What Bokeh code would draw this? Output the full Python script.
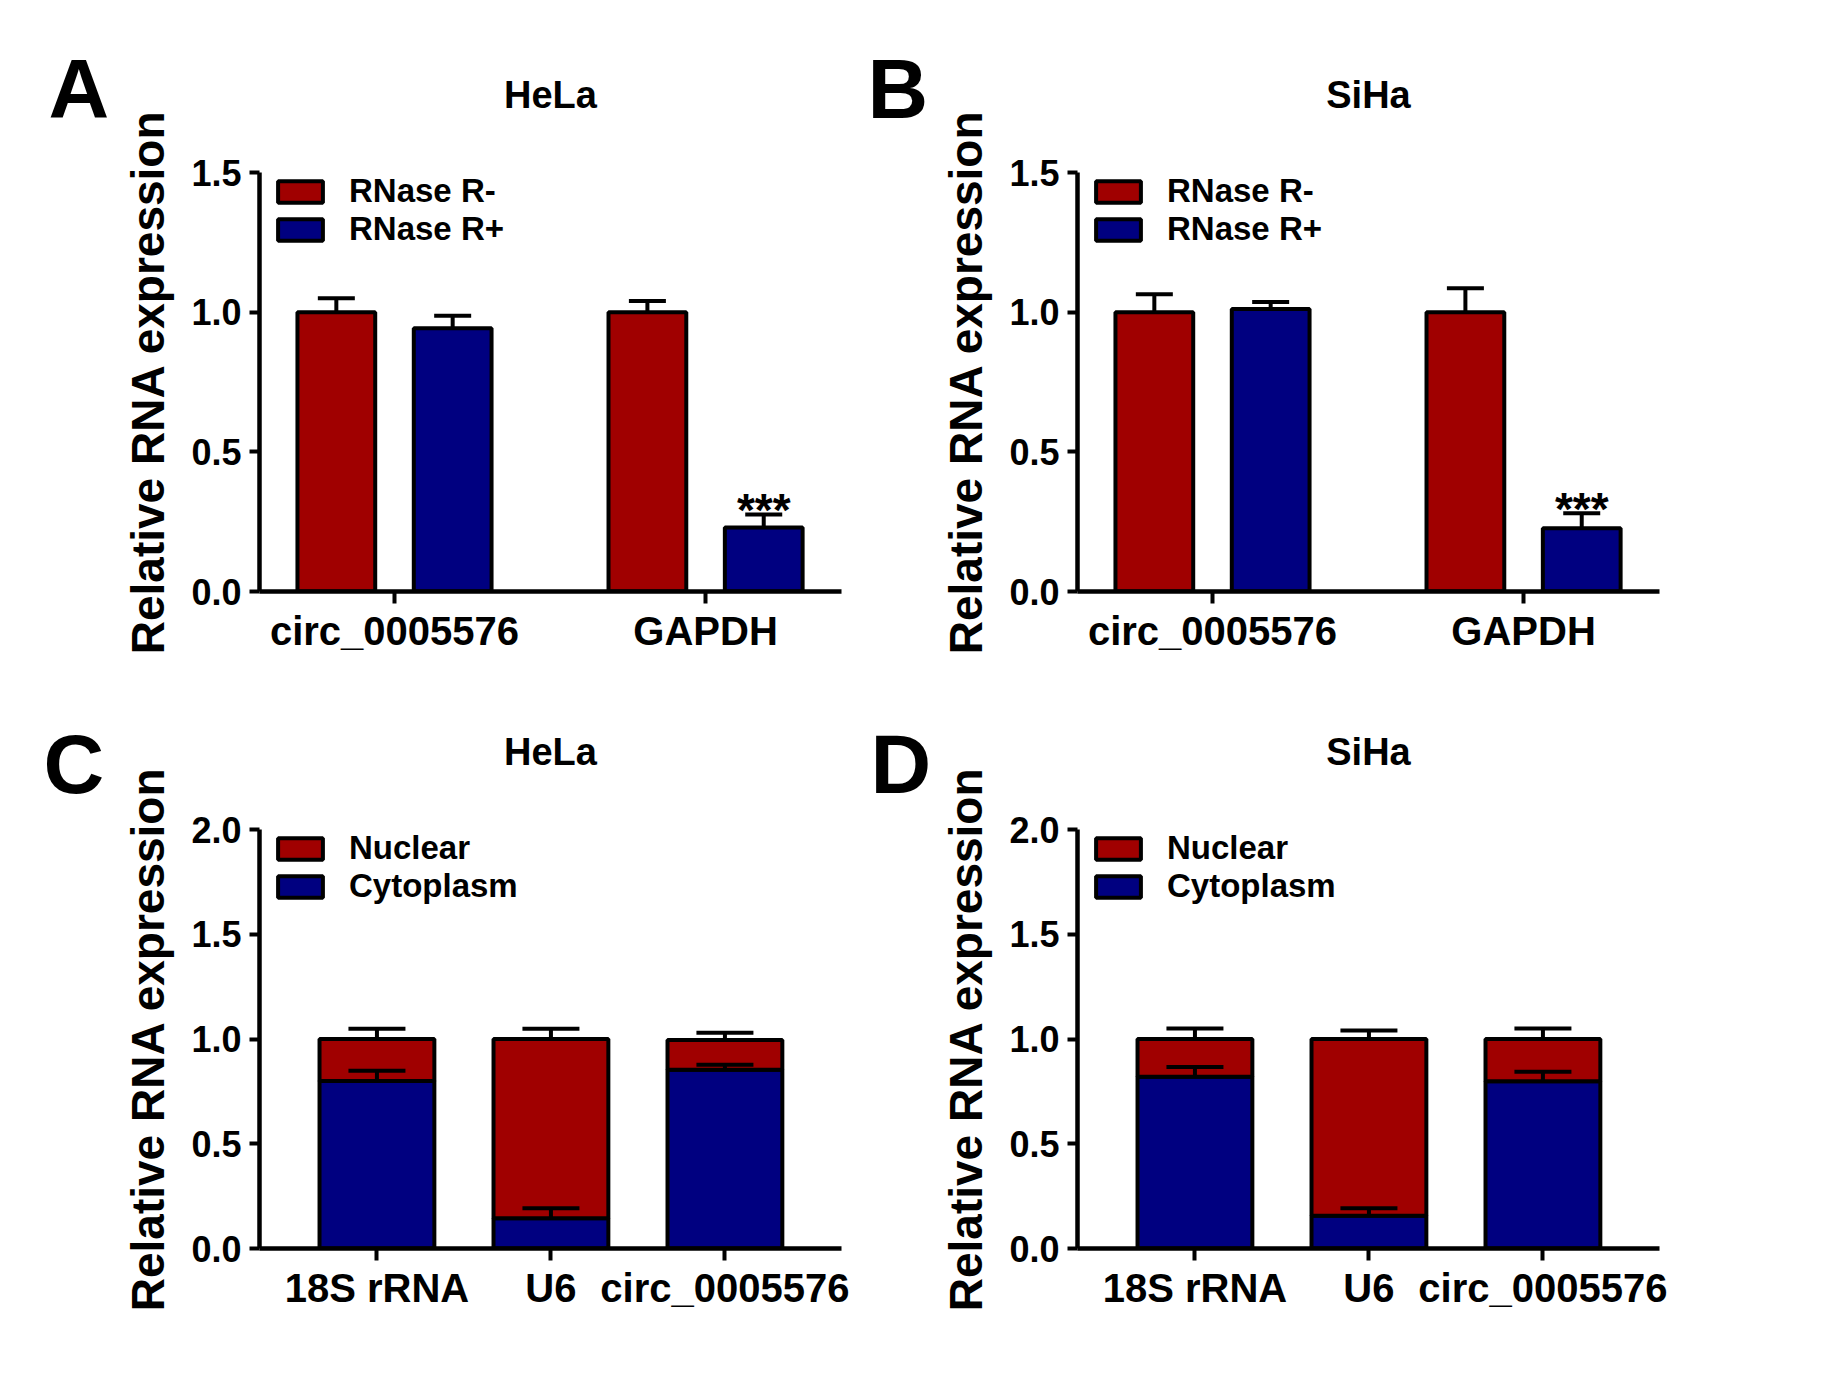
from bokeh.plotting import figure
from bokeh.models import (ColumnDataSource, Range1d, FixedTicker, PrintfTickFormatter,
                          Whisker, TeeHead, Legend, LegendItem)
from bokeh.layouts import gridplot
from bokeh.transform import dodge
from bokeh.core.properties import value
from bokeh.embed import file_html
from bokeh.resources import INLINE

FONT = "Liberation Sans"
RED = "#A00000"
BLUE = "#000080"

# ---------------- data ----------------
panel_letters = ["A", "B", "C", "D"]
cell_lines = ["HeLa", "SiHa"]

rnase_genes = ["circ_0005576", "GAPDH"]
rnase_series = ["RNase R-", "RNase R+"]

hela_rnase_minus = [1.00, 1.00]
hela_rnase_minus_err = [0.050, 0.040]
hela_rnase_plus = [0.942, 0.229]
hela_rnase_plus_err = [0.045, 0.047]
hela_rnase_sig = ["", "***"]

siha_rnase_minus = [1.00, 1.00]
siha_rnase_minus_err = [0.064, 0.086]
siha_rnase_plus = [1.011, 0.226]
siha_rnase_plus_err = [0.025, 0.054]
siha_rnase_sig = ["", "***"]

fraction_genes = ["18S rRNA", "U6", "circ_0005576"]
fraction_series = ["Nuclear", "Cytoplasm"]

hela_nuclear = [0.200, 0.856, 0.142]
hela_nuclear_err = [0.049, 0.049, 0.035]
hela_cytoplasm = [0.800, 0.144, 0.853]
hela_cytoplasm_err = [0.048, 0.048, 0.024]

siha_nuclear = [0.180, 0.844, 0.202]
siha_nuclear_err = [0.050, 0.040, 0.050]
siha_cytoplasm = [0.820, 0.156, 0.798]
siha_cytoplasm_err = [0.046, 0.036, 0.046]

rnase_ticks = [0.0, 0.5, 1.0, 1.5]
fraction_ticks = [0.0, 0.5, 1.0, 1.5, 2.0]

FRAME_W, FRAME_H = 582, 419


def letter_fig(w, h, letter, offset, standoff):
    p = figure(width=w, height=h, x_range=Range1d(0, 1), y_range=Range1d(0, 1),
               output_backend="svg", toolbar_location=None,
               x_axis_location=None, y_axis_location=None,
               min_border_left=0, min_border_right=0, min_border_top=0, min_border_bottom=0)
    p.outline_line_color = None
    p.xgrid.visible = False
    p.ygrid.visible = False
    p.title.text = letter
    p.title.align = "left"
    p.title.offset = offset
    p.title.standoff = standoff
    p.title.text_font = FONT
    p.title.text_font_size = "84px"
    p.title.text_font_style = "bold"
    p.title.text_color = "black"
    return p


def base_fig(w, h, bl, br, bt, bb, xr, yr, yticks, genes, title):
    p = figure(width=w, height=h, x_range=Range1d(*xr), y_range=Range1d(*yr),
               output_backend="svg", toolbar_location=None,
               min_border_left=bl, min_border_right=br,
               min_border_top=bt, min_border_bottom=bb)
    p.outline_line_color = None
    p.xgrid.visible = False
    p.ygrid.visible = False

    for ax in (p.xaxis[0], p.yaxis[0]):
        ax.axis_line_width = 4.5
        ax.axis_line_color = "black"
        ax.major_tick_line_width = 4
        ax.major_tick_line_color = "black"
        ax.minor_tick_line_color = None
        ax.major_tick_in = 0
        ax.major_label_text_font = FONT
        ax.major_label_text_font_style = "bold"
        ax.major_label_text_color = "black"

    p.yaxis.major_tick_out = 10
    p.yaxis.major_label_standoff = 8
    p.yaxis.ticker = FixedTicker(ticks=yticks)
    p.yaxis.formatter = PrintfTickFormatter(format="%.1f")
    p.yaxis.major_label_text_font_size = "36px"
    p.yaxis.axis_label = "Relative RNA expression"
    p.yaxis.axis_label_text_font = FONT
    p.yaxis.axis_label_text_font_size = "46px"
    p.yaxis.axis_label_text_font_style = "bold"
    p.yaxis.axis_label_text_color = "black"
    p.yaxis.axis_label_standoff = 14

    p.xaxis.major_tick_out = 12
    p.xaxis.major_label_standoff = 5
    p.xaxis.ticker = FixedTicker(ticks=list(range(len(genes))))
    p.xaxis.major_label_overrides = {i: g for i, g in enumerate(genes)}
    p.xaxis.major_label_text_font_size = "40px"

    p.title.text = title
    p.title.align = "center"
    p.title.text_font = FONT
    p.title.text_font_size = "38px"
    p.title.text_font_style = "bold"
    p.title.text_color = "black"
    p.title.standoff = 114
    return p


def make_legend(items):
    return Legend(items=items, location=(13, FRAME_H - 2 * 38),
                  orientation="vertical", padding=0, spacing=0, margin=0,
                  glyph_width=56, glyph_height=27, label_standoff=21, label_height=38,
                  label_text_font=FONT, label_text_font_size="33px",
                  label_text_font_style="bold", label_text_color="black",
                  border_line_color=None, background_fill_alpha=0)


def whisker(p, src, base, lo, up, cap):
    p.add_layout(Whisker(source=src, base=base, lower=lo, upper=up, dimension="height",
                         line_width=4, line_color="black", level="overlay",
                         upper_head=TeeHead(size=cap, line_width=4, line_color="black"),
                         lower_head=None))


def rnase_panel(w, h, bl, br, bt, bb, title, minus, minus_err, plus, plus_err, sig):
    p = base_fig(w, h, bl, br, bt, bb, (-0.434, 1.437), (0, 1.5), rnase_ticks,
                 rnase_genes, title)
    off, bw = 0.187, 0.25
    src = ColumnDataSource(dict(
        x=list(range(len(rnase_genes))),
        minus=minus, minus_up=[v + e for v, e in zip(minus, minus_err)],
        plus=plus, plus_up=[v + e for v, e in zip(plus, plus_err)],
        sig=sig))
    r1 = p.vbar(x=dodge("x", -off, range=p.x_range), top="minus", bottom=0, width=bw,
                source=src, fill_color=RED, line_color="black", line_width=4)
    r2 = p.vbar(x=dodge("x", off, range=p.x_range), top="plus", bottom=0, width=bw,
                source=src, fill_color=BLUE, line_color="black", line_width=4)
    whisker(p, src, dodge("x", -off, range=p.x_range), "minus", "minus_up", 37)
    whisker(p, src, dodge("x", off, range=p.x_range), "plus", "plus_up", 37)
    p.text(x=dodge("x", off, range=p.x_range), y="plus_up", text="sig", source=src,
           text_font=value(FONT), text_font_size="46px", text_font_style="bold",
           text_align="center", text_baseline="alphabetic", y_offset=-4, text_color="black")
    p.add_layout(make_legend([LegendItem(label=rnase_series[0], renderers=[r1]),
                              LegendItem(label=rnase_series[1], renderers=[r2])]))
    return p


def fraction_panel(w, h, bl, br, bt, bb, title, nuc, nuc_err, cyto, cyto_err):
    p = base_fig(w, h, bl, br, bt, bb, (-0.675, 2.67), (0, 2.0), fraction_ticks,
                 fraction_genes, title)
    bw = 0.66
    total = [c + n for c, n in zip(cyto, nuc)]
    src = ColumnDataSource(dict(
        x=list(range(len(fraction_genes))),
        cyto=cyto, cyto_up=[c + e for c, e in zip(cyto, cyto_err)],
        total=total, total_up=[t + e for t, e in zip(total, nuc_err)]))
    rc = p.vbar(x="x", bottom=0, top="cyto", width=bw, source=src,
                fill_color=BLUE, line_color="black", line_width=4)
    rn = p.vbar(x="x", bottom="cyto", top="total", width=bw, source=src,
                fill_color=RED, line_color="black", line_width=4)
    whisker(p, src, "x", "cyto", "cyto_up", 57)
    whisker(p, src, "x", "total", "total_up", 57)
    p.add_layout(make_legend([LegendItem(label=fraction_series[0], renderers=[rn]),
                              LegendItem(label=fraction_series[1], renderers=[rc])]))
    return p


# ---------------- layout (pixels) ----------------
L1, L2 = 110, 68            # letter strips
W1 = 868 - L1               # panel A / C figure width
W2 = 1815 - 868 - L2        # panel B / D figure width
H1, H2 = 663, 718
FB1 = 259 - L1              # frame left border, column 1
FB2 = 1077 - 868 - L2       # frame left border, column 2
FT1 = 172
FT2 = 829 - H1

pA = rnase_panel(W1, H1, FB1, W1 - FB1 - FRAME_W, FT1, H1 - FT1 - FRAME_H, cell_lines[0],
                 hela_rnase_minus, hela_rnase_minus_err, hela_rnase_plus, hela_rnase_plus_err,
                 hela_rnase_sig)
pB = rnase_panel(W2, H1, FB2, W2 - FB2 - FRAME_W, FT1, H1 - FT1 - FRAME_H, cell_lines[1],
                 siha_rnase_minus, siha_rnase_minus_err, siha_rnase_plus, siha_rnase_plus_err,
                 siha_rnase_sig)
pC = fraction_panel(W1, H2, FB1, W1 - FB1 - FRAME_W, FT2, H2 - FT2 - FRAME_H, cell_lines[0],
                    hela_nuclear, hela_nuclear_err, hela_cytoplasm, hela_cytoplasm_err)
pD = fraction_panel(W2, H2, FB2, W2 - FB2 - FRAME_W, FT2, H2 - FT2 - FRAME_H, cell_lines[1],
                    siha_nuclear, siha_nuclear_err, siha_cytoplasm, siha_cytoplasm_err)

lA = letter_fig(L1, H1, panel_letters[0], 48, 74)
lB = letter_fig(L2, H1, panel_letters[1], -1, 74)
lC = letter_fig(L1, H2, panel_letters[2], 43, 38)
lD = letter_fig(L2, H2, panel_letters[3], 2, 38)

grid = gridplot([[lA, pA, lB, pB], [lC, pC, lD, pD]], toolbar_location=None)

with open("out.html", "w") as f:
    f.write(file_html(grid, INLINE, title="RNA expression"))
